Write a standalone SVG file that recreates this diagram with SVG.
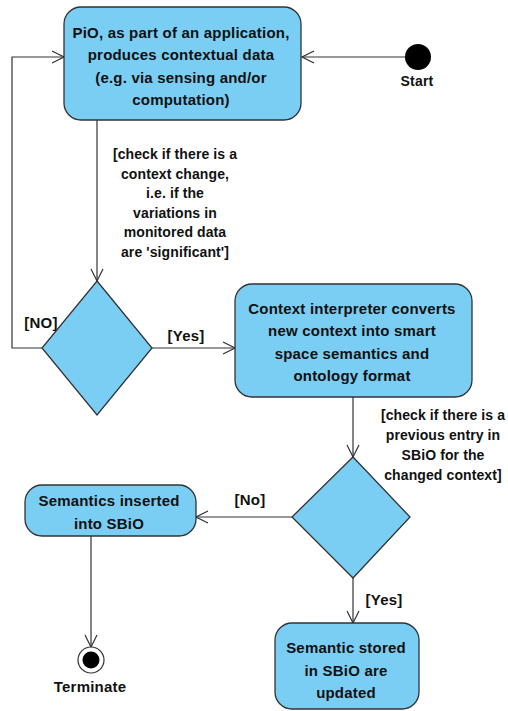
<svg xmlns="http://www.w3.org/2000/svg" width="508" height="711" viewBox="0 0 508 711">
  <style>
    .act { fill: #7ACEF4; stroke: #333; stroke-width: 1.3; }
    .lbl { font-family: "Liberation Sans", Arial, sans-serif; font-weight: bold; font-size: 15px; letter-spacing: 0.2px; fill: #111; text-anchor: middle; }
    .guard { font-size: 14px; letter-spacing: 0.1px; }
    .edge { fill: none; stroke: #333; stroke-width: 1.2; }
  </style>
  <defs>
    <marker id="open" viewBox="0 0 14 14" refX="13" refY="7" markerWidth="14" markerHeight="14" markerUnits="userSpaceOnUse" orient="auto">
      <path d="M1,1 L13,7 L1,13" fill="none" stroke="#333" stroke-width="1.2"/>
    </marker>
  </defs>
  <rect width="508" height="711" fill="#fff"/>

  <!-- connectors and their guard labels -->
  <g id="edges">
    <path class="edge" d="M405,57 H302" marker-end="url(#open)"/>
    <path class="edge" d="M97,120 V281" marker-end="url(#open)"/>
    <path class="edge" d="M42,348 H12 V57 H64" marker-end="url(#open)"/>
    <path class="edge" d="M152,348 H235" marker-end="url(#open)"/>
    <path class="edge" d="M353,397 V457" marker-end="url(#open)"/>
    <path class="edge" d="M292,517 H196" marker-end="url(#open)"/>
    <path class="edge" d="M353,578 V623" marker-end="url(#open)"/>
    <path class="edge" d="M91,536 V647" marker-end="url(#open)"/>
    <text class="lbl guard" x="175" y="159">[check if there is a</text>
    <text class="lbl guard" x="175" y="179">context change,</text>
    <text class="lbl guard" x="175" y="198">i.e. if the</text>
    <text class="lbl guard" x="175" y="218">variations in</text>
    <text class="lbl guard" x="175" y="237">monitored data</text>
    <text class="lbl guard" x="175" y="257">are 'significant']</text>
    <text class="lbl" x="41" y="328">[NO]</text>
    <text class="lbl" x="186" y="341">[Yes]</text>
    <text class="lbl guard" x="443" y="420">[check if there is a</text>
    <text class="lbl guard" x="443" y="440">previous entry in</text>
    <text class="lbl guard" x="443" y="460">SBiO for the</text>
    <text class="lbl guard" x="443" y="480">changed context]</text>
    <text class="lbl" x="250" y="505">[No]</text>
    <text class="lbl" x="384" y="605">[Yes]</text>
  </g>

  <g id="start">
    <circle cx="418" cy="57" r="13" fill="#000"/>
    <text class="lbl" x="417" y="86" style="font-size:14px">Start</text>
  </g>

  <g id="produce">
    <rect class="act" x="64" y="7" width="237" height="113" rx="17"/>
    <text class="lbl" x="181" y="38">PiO, as part of an application,</text>
    <text class="lbl" x="181" y="60">produces contextual data</text>
    <text class="lbl" x="181" y="83">(e.g. via sensing and/or</text>
    <text class="lbl" x="181" y="105">computation)</text>
  </g>

  <g id="decision1">
    <polygon class="act" points="97,281 152,348 97,415 42,348"/>
  </g>

  <g id="interpret">
    <rect class="act" x="235" y="284" width="237" height="113" rx="17"/>
    <text class="lbl" x="352" y="314">Context interpreter converts</text>
    <text class="lbl" x="352" y="336">new context into smart</text>
    <text class="lbl" x="352" y="359">space semantics and</text>
    <text class="lbl" x="352" y="381">ontology format</text>
  </g>

  <g id="decision2">
    <polygon class="act" points="353,457 410,517 353,578 292,517"/>
  </g>

  <g id="insert">
    <rect class="act" x="25" y="485" width="171" height="51" rx="17"/>
    <text class="lbl" x="109" y="506">Semantics inserted</text>
    <text class="lbl" x="109" y="529">into SBiO</text>
  </g>

  <g id="update">
    <rect class="act" x="275" y="623" width="144" height="86" rx="17"/>
    <text class="lbl" x="346" y="653">Semantic stored</text>
    <text class="lbl" x="346" y="676">in SBiO are</text>
    <text class="lbl" x="346" y="698">updated</text>
  </g>

  <g id="terminate">
    <circle cx="91" cy="660" r="13" fill="#fff" stroke="#333" stroke-width="1.2"/>
    <circle cx="91" cy="660" r="8.5" fill="#000"/>
    <text class="lbl" x="90" y="692">Terminate</text>
  </g>
</svg>
